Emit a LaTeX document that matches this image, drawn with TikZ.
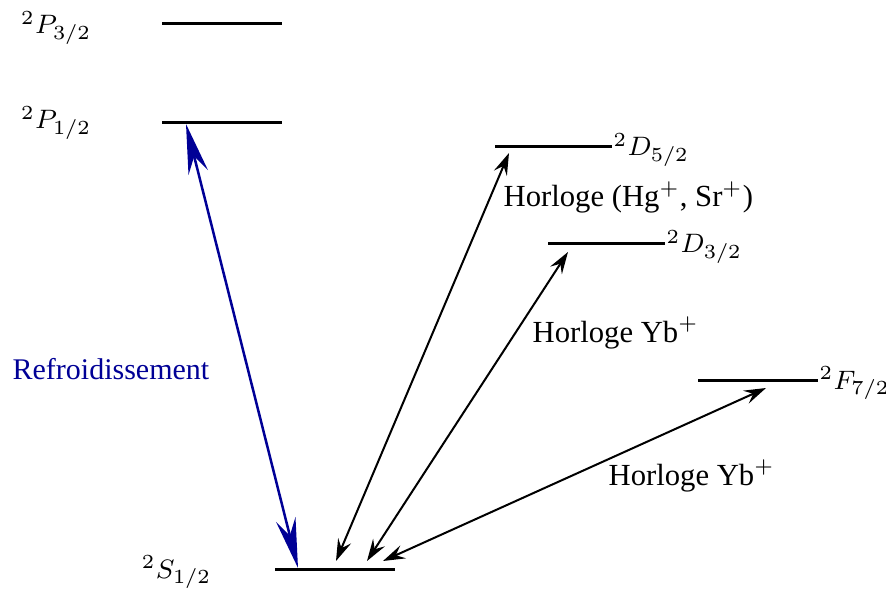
\documentclass[tikz,border=0pt]{standalone}
\usepackage{fontspec}
\setmainfont{Liberation Serif}
\usetikzlibrary{arrows.meta}
\definecolor{navyb}{RGB}{0,0,150}
\begin{document}
\begin{tikzpicture}[x=0.3pt,y=-0.3pt,
  level/.style={line width=0.9pt},
  lbl/.style={inner sep=0pt,font=\fontsize{9.2}{11}\selectfont},
  mlbl/.style={inner sep=0pt,font=\fontsize{8.3}{10}\selectfont},
  trans/.style={line width=0.6pt,{Stealth[length=6.6pt,width=4.2pt,inset=2.4pt]}-{Stealth[length=6.6pt,width=4.2pt,inset=2.4pt]}},
  cool/.style={line width=0.75pt,navyb,{Stealth[length=15pt,width=6pt,inset=5pt]}-{Stealth[length=15pt,width=6pt,inset=5pt]}}]
\useasboundingbox (0,0) rectangle (886,590);
% levels
\draw[level] (162,24) coordinate (p3a) -- (282,24) coordinate (p3b);
\draw[level] (162,123) coordinate (p1a) -- (282,123) coordinate (p1b);
\draw[level] (495,147) coordinate (d5a) -- (612,147) coordinate (d5b);
\draw[level] (548,244) coordinate (d3a) -- (665,244) coordinate (d3b);
\draw[level] (698,380) coordinate (f7a) -- (818,380) coordinate (f7b);
\draw[level] (275,569) coordinate (s1a) -- (395,569) coordinate (s1b);
% level labels
\node[mlbl,anchor=base east] (lp3) at (92,34) {$^2P_{3/2}$};
\node[mlbl,anchor=base east] (lp1) at (92,129) {$^2P_{1/2}$};
\node[mlbl,anchor=base west] (ld5) at (613,156) {$^2D_{5/2}$};
\node[mlbl,anchor=base west] (ld3) at (666,253) {$^2D_{3/2}$};
\node[mlbl,anchor=base west] (lf7) at (819,389) {$^2F_{7/2}$};
\node[mlbl,anchor=base east] (ls1) at (212,578) {$^2S_{1/2}$};
% transitions
\coordinate (c1) at (186,124);
\coordinate (c2) at (298,568);
\draw[cool] (c1) -- (c2);
\coordinate (a1) at (509,153);
\coordinate (a2) at (336,561);
\draw[trans] (a2) -- (a1);
\coordinate (b1) at (568,252);
\coordinate (b2) at (367,561);
\draw[trans] (b2) -- (b1);
\coordinate (e1) at (766,388);
\coordinate (e2) at (383,561);
\draw[trans] (e2) -- (e1);
% transition labels
\node[inner sep=0pt,font=\fontsize{9}{11}\selectfont,navyb,anchor=base west] (tc) at (12,379) {Refroidissement};
\node[lbl,anchor=base west] (ta) at (503,207) {Horloge (Hg$^+$, Sr$^+$)};
\node[lbl,anchor=base west] (tb) at (532,342) {Horloge Yb$^+$};
\node[lbl,anchor=base west] (te) at (608,485) {Horloge Yb$^+$};
\end{tikzpicture}
\end{document}
